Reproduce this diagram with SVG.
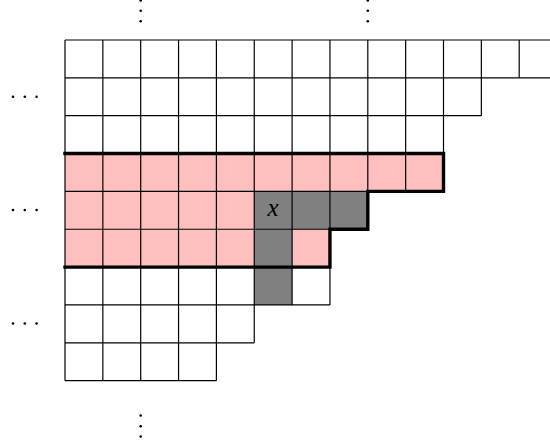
<svg xmlns="http://www.w3.org/2000/svg" width="550" height="446" viewBox="0 0 550 446">
<style>
.pink{fill:#ffbfbf}
.gray{fill:#808080}
.grid line{stroke:#000;stroke-width:1.2}
.thick{fill:none;stroke:#000;stroke-width:3.4;stroke-linejoin:miter;stroke-linecap:square}
.dot{fill:#000}
.lbl{font-family:"Liberation Serif",serif;font-style:italic;font-size:25px;fill:#000}
</style>
<rect width="550" height="446" fill="#fff"/>
<g id="fills">
<rect class="pink" x="65" y="153.55" width="378.5" height="37.85"/>
<rect class="pink" x="65" y="191.4" width="189.25" height="37.85"/>
<rect class="pink" x="65" y="229.25" width="189.25" height="37.85"/>
<rect class="pink" x="292.1" y="229.25" width="37.85" height="37.85"/>
<rect class="gray" x="254.25" y="191.4" width="113.55" height="37.85"/>
<rect class="gray" x="254.25" y="229.25" width="37.85" height="75.7"/>
</g>
<g id="grid" class="grid">
<line x1="65" y1="40" x2="550" y2="40"/>
<line x1="65" y1="77.85" x2="550" y2="77.85"/>
<line x1="65" y1="115.7" x2="481.35" y2="115.7"/>
<line x1="65" y1="153.55" x2="443.5" y2="153.55"/>
<line x1="65" y1="191.4" x2="443.5" y2="191.4"/>
<line x1="65" y1="229.25" x2="367.8" y2="229.25"/>
<line x1="65" y1="267.1" x2="329.95" y2="267.1"/>
<line x1="65" y1="304.95" x2="329.95" y2="304.95"/>
<line x1="65" y1="342.8" x2="254.25" y2="342.8"/>
<line x1="65" y1="380.65" x2="216.4" y2="380.65"/>
<line x1="65" y1="40" x2="65" y2="380.65"/>
<line x1="102.85" y1="40" x2="102.85" y2="380.65"/>
<line x1="140.7" y1="40" x2="140.7" y2="380.65"/>
<line x1="178.55" y1="40" x2="178.55" y2="380.65"/>
<line x1="216.4" y1="40" x2="216.4" y2="380.65"/>
<line x1="254.25" y1="40" x2="254.25" y2="342.8"/>
<line x1="292.1" y1="40" x2="292.1" y2="304.95"/>
<line x1="329.95" y1="40" x2="329.95" y2="304.95"/>
<line x1="367.8" y1="40" x2="367.8" y2="229.25"/>
<line x1="405.65" y1="40" x2="405.65" y2="191.4"/>
<line x1="443.5" y1="40" x2="443.5" y2="191.4"/>
<line x1="481.35" y1="40" x2="481.35" y2="115.7"/>
<line x1="519.2" y1="40" x2="519.2" y2="77.85"/>
</g>
<path id="outline" class="thick" d="M65,153.55 H443.5 V191.4 H367.8 V229.25 H329.95 V267.1 H65"/>
<text id="x-label" class="lbl" x="273" y="216" text-anchor="middle">x</text>
<g id="dots">
<circle class="dot" cx="140.7" cy="0.5" r="1.3"/>
<circle class="dot" cx="140.7" cy="10.7" r="1.3"/>
<circle class="dot" cx="140.7" cy="21.3" r="1.3"/>
<circle class="dot" cx="367.8" cy="0.5" r="1.3"/>
<circle class="dot" cx="367.8" cy="10.7" r="1.3"/>
<circle class="dot" cx="367.8" cy="21.3" r="1.3"/>
<circle class="dot" cx="140.7" cy="415.5" r="1.3"/>
<circle class="dot" cx="140.7" cy="426.2" r="1.3"/>
<circle class="dot" cx="140.7" cy="436.5" r="1.3"/>
<circle class="dot" cx="13" cy="96.8" r="1.3"/>
<circle class="dot" cx="24.8" cy="96.8" r="1.3"/>
<circle class="dot" cx="36.6" cy="96.8" r="1.3"/>
<circle class="dot" cx="13" cy="210" r="1.3"/>
<circle class="dot" cx="24.8" cy="210" r="1.3"/>
<circle class="dot" cx="36.6" cy="210" r="1.3"/>
<circle class="dot" cx="13" cy="323.5" r="1.3"/>
<circle class="dot" cx="24.8" cy="323.5" r="1.3"/>
<circle class="dot" cx="36.6" cy="323.5" r="1.3"/>
</g>
</svg>
